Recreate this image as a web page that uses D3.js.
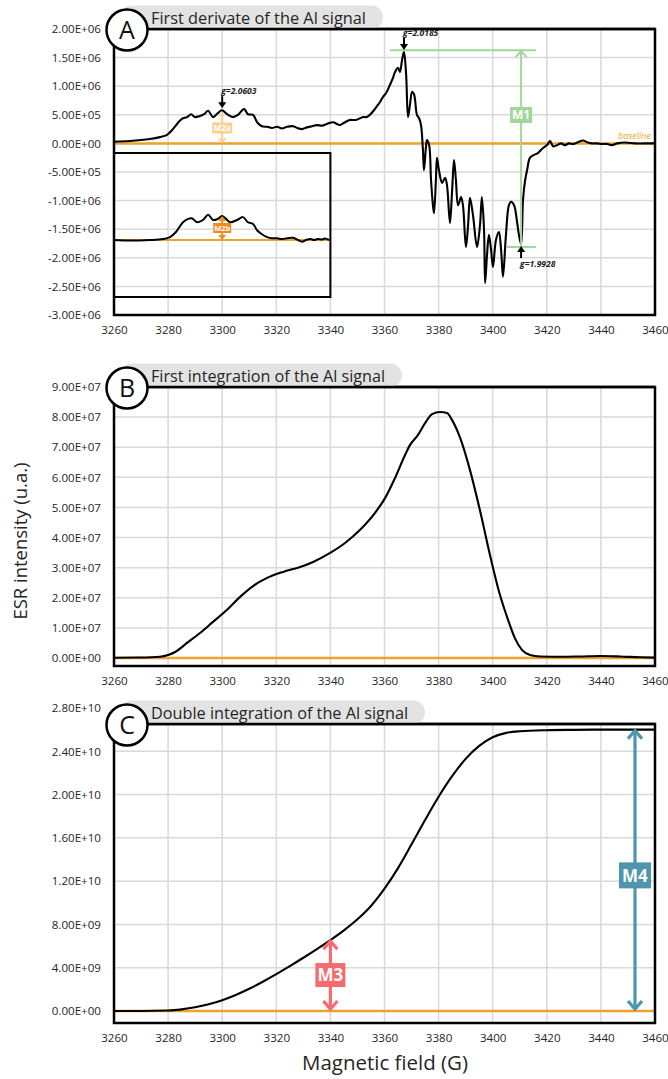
<!DOCTYPE html>
<html>
<head>
<meta charset="utf-8">
<script src="https://cdn.jsdelivr.net/npm/d3@7"></script>
<style>
  body { margin: 0; background: #fff; }
  text { font-family: "Open Sans", "Noto Sans", sans-serif; }
</style>
</head>
<body>
<svg id="chart" width="668" height="1079"></svg>
<script>
// ---- data -------------------------------------------------------------
const fieldTicks = [3260, 3280, 3300, 3320, 3340, 3360, 3380, 3400, 3420, 3440, 3460];

const derivTicks = [2e6, 1.5e6, 1e6, 5e5, 0, -5e5, -1e6, -1.5e6, -2e6, -2.5e6, -3e6];
const integTicks = [9e7, 8e7, 7e7, 6e7, 5e7, 4e7, 3e7, 2e7, 1e7, 0];
const doubleTicks = [2.8e10, 2.4e10, 2e10, 1.6e10, 1.2e10, 8e9, 4e9, 0];

// first derivative of the Al signal
const derivField = [3260,3265.9,3273.3,3277.0,3279.6,3281.4,3283.3,3285.1,3287.0,3288.5,
  3289.9,3291.8,3293.3,3294.8,3296.6,3298.4,3299.9,3301.8,3304.0,3305.8,
  3308.1,3309.5,3311.4,3312.9,3314.7,3316.6,3318.4,3320.3,3322.1,3324.0,
  3326.2,3327.7,3329.5,3331.3,3333.2,3335.0,3336.9,3338.7,3341.0,3342.4,
  3343.5,3345.4,3347.2,3349.5,3352.1,3353.5,3354.6,3356.1,3357.2,3358.3,
  3359.4,3360.6,3362.0,3363.1,3363.9,3365.0,3365.7,3366.5,3367.2,3368.0,
  3368.7,3369.4,3370.2,3370.9,3371.3,3372.0,3372.8,3373.5,3374.2,3374.6,
  3375.3,3375.7,3376.5,3377.2,3377.9,3378.3,3379.0,3379.4,3380.1,3381.3,
  3382.4,3383.1,3384.2,3385.0,3385.7,3386.4,3387.2,3388.3,3389.0,3390.1,
  3390.9,3391.6,3392.7,3394.2,3395.3,3396.0,3396.8,3397.2,3397.9,3398.6,
  3399.4,3400.1,3401.2,3402.3,3403.1,3403.8,3404.9,3406.0,3406.8,3407.9,
  3409.0,3409.7,3410.5,3411.2,3412.0,3412.7,3413.8,3415.3,3416.7,3418.6,
  3420.1,3421.2,3422.3,3423.8,3425.2,3426.7,3428.2,3429.7,3431.5,3433.4,
  3434.9,3436.7,3438.6,3440.4,3442.3,3444.1,3446.0,3448.9,3452.6,3456.3,3460];
const derivValue = [3.0e4,4.2e4,7.7e4,1.1e5,1.5e5,2.3e5,3.4e5,4.3e5,4.6e5,5.1e5,
  4.6e5,4.8e5,5.1e5,5.7e5,4.6e5,5.3e5,5.8e5,5.1e5,4.6e5,5.0e5,
  6.0e5,5.1e5,5.0e5,3.7e5,3.0e5,2.9e5,2.7e5,2.9e5,2.6e5,2.9e5,
  3.0e5,2.7e5,2.5e5,2.8e5,3.0e5,3.2e5,3.1e5,3.4e5,3.7e5,3.4e5,
  3.2e5,3.7e5,4.1e5,4.1e5,4.6e5,4.6e5,5.0e5,5.8e5,6.5e5,7.2e5,
  8.1e5,8.8e5,1.02e6,1.14e6,1.25e6,1.32e6,1.25e6,1.46e6,1.60e6,1.20e6,
  4.6e5,6.7e5,9.0e5,8.6e5,7.6e5,5.0e5,4.4e5,3.2e5,-1.1e5,-4.7e5,
  -8e4,6e4,-3e4,-6.4e5,-1.08e6,-1.22e6,-6.4e5,-2.5e5,-4.6e5,-6.9e5,
  -6.0e5,-7.3e5,-1.39e6,-8.2e5,-2.9e5,-6.4e5,-1.08e6,-9.4e5,-1.08e6,-1.81e6,
  -1.43e6,-9.5e5,-1.25e6,-1.81e6,-1.43e6,-9.4e5,-1.51e6,-2.44e6,-1.95e6,-1.60e6,
  -1.86e6,-2.16e6,-1.69e6,-1.55e6,-1.86e6,-2.33e6,-1.60e6,-1.08e6,-1.02e6,-1.08e6,
  -1.37e6,-1.60e6,-1.76e6,-9.9e5,-6.4e5,-4.7e5,-2.5e5,-2.0e5,-1.7e5,-8e4,
  -3e4,4e4,-5e4,-3e4,0,-3e4,0,-1e4,2e4,5e4,
  2e4,0,0,-1e4,-1e4,-3e4,0,1.5e4,0,0,0];

// baseline-corrected low-field component (inset)
const insetField = [3260,3265.9,3273.3,3278.1,3280.7,3282.9,3285.5,3287.4,3288.8,3290.7,
  3292.9,3294.8,3296.6,3298.4,3299.9,3301.4,3302.9,3305.5,3307.7,3309.5,
  3311.4,3312.9,3314.7,3316.6,3318.4,3320.3,3322.1,3324.0,3326.2,3328.0,
  3329.5,3331.0,3332.5,3334.0,3335.4,3336.9,3338.0,3339.5];
const insetValue = [0,-9e3,0,1.7e4,5e4,1.4e5,3.1e5,3.7e5,3.8e5,3.1e5,
  3.5e5,4.4e5,3.5e5,3.7e5,4.2e5,3.7e5,3.1e5,3.5e5,4.0e5,3.1e5,
  2.8e5,1.7e5,1.0e5,5e4,3e4,3e4,1.7e4,3e4,4e4,0,
  -3e4,0,1.7e4,0,1.7e4,9e3,2.6e4,0];

// first integration
const integField = [3260,3269.6,3277.0,3280.0,3282.6,3287.0,3291.8,3296.6,3301.8,3306.6,
  3311.4,3316.6,3322.5,3328.8,3333.6,3339.9,3345.4,3350.9,3356.5,3360.2,
  3363.9,3367.6,3369.4,3372.4,3375.0,3377.6,3380.5,3383.1,3385.0,3388.0,
  3391.6,3395.3,3399.0,3402.7,3405.7,3408.2,3410.8,3413.8,3417.5,3424.9,
  3432.3,3439.7,3447.1,3454.5,3460];
const integValue = [1e5,1.7e5,4.3e5,1.0e6,2.0e6,5.0e6,8.3e6,1.2e7,1.6e7,2.03e7,
  2.39e7,2.66e7,2.86e7,3.02e7,3.19e7,3.49e7,3.82e7,4.25e7,4.82e7,5.31e7,
  5.98e7,6.74e7,7.07e7,7.41e7,7.8e7,8.1e7,8.17e7,8.14e7,7.9e7,7.3e7,
  6.24e7,4.9e7,3.42e7,2.09e7,1.26e7,6.6e6,2.7e6,1.0e6,5e5,4e5,
  5e5,6.6e5,5e5,2.3e5,1.3e5];

// double integration
const doubleField = [3260,3270,3280,3285,3290,3295,3300,3305,3310,3315,
  3320,3325,3330,3335,3340,3345,3350,3355,3360,3365,
  3370,3375,3380,3385,3390,3395,3400,3405,3410,3420,
  3430,3440,3450,3460];
const doubleValue = [0,0,4e7,1.5e8,3.4e8,6.2e8,1.0e9,1.48e9,2.05e9,2.7e9,
  3.4e9,4.15e9,4.92e9,5.72e9,6.55e9,7.45e9,8.47e9,9.7e9,1.13e10,1.32e10,
  1.54e10,1.765e10,1.98e10,2.17e10,2.33e10,2.45e10,2.53e10,2.57e10,2.585e10,2.595e10,
  2.598e10,2.6e10,2.6e10,2.6e10];

// g-factor markers on the derivative
const gMarks = [
  { label: "g=2.0603", field: 3300.0, value: 5.8e5, dir: "down" },
  { label: "g=2.0185", field: 3367.2, value: 1.60e6, dir: "down" },
  { label: "g=1.9928", field: 3410.5, value: -1.76e6, dir: "up" }
];

// ---- drawing ----------------------------------------------------------
const svg = d3.select("#chart");
const ORANGE = "#f0a22e", GRID = "#d9d9d9";
const x = d3.scaleLinear().domain([3260, 3460]).range([114, 655]);

function sci(v) {
  if (v === 0) return "0.00E+00";
  const [m, e] = v.toExponential(2).split("e");
  const n = parseInt(e, 10);
  return m + "E" + (n < 0 ? "-" : "+") + String(Math.abs(n)).padStart(2, "0");
}

function chevron(g, cx, cy, dir, h, w, color, sw) {
  // open arrow head with the tip at (cx, cy); dir = -1 points up, +1 points down
  g.append("path")
    .attr("d", `M${cx - w},${cy - dir * h}L${cx},${cy}L${cx + w},${cy - dir * h}`)
    .attr("fill", "none").attr("stroke", color).attr("stroke-width", sw)
    .attr("stroke-linejoin", "miter").attr("stroke-linecap", "butt");
}

function tri(g, cx, cy, dir, h, w, color) {
  g.append("path")
    .attr("d", `M${cx - w},${cy - dir * h}L${cx},${cy}L${cx + w},${cy - dir * h}Z`)
    .attr("fill", color);
}

function labelBox(g, cx, cy, w, h, text, fill, fs) {
  g.append("rect").attr("x", cx - w / 2).attr("y", cy - h / 2)
    .attr("width", w).attr("height", h).attr("fill", fill);
  g.append("text").attr("x", cx).attr("y", cy).attr("dy", "0.36em")
    .attr("text-anchor", "middle").attr("fill", "#fff")
    .attr("font-weight", 700).attr("font-size", fs).text(text);
}

const panels = [
  { key: "A", title: "First derivate of the Al signal", titleW: 215,
    top: 29, bottom: 315, yDomain: [-3e6, 2e6], yRange: [315, 29],
    ticks: derivTicks, field: derivField, value: derivValue, curve: d3.curveCatmullRom.alpha(0.5) },
  { key: "B", title: "First integration of the Al signal", titleW: 234,
    top: 387, bottom: 666, yDomain: [0, 9e7], yRange: [658, 387],
    ticks: integTicks, field: integField, value: integValue, curve: d3.curveMonotoneX },
  { key: "C", title: "Double integration of the Al signal", titleW: 257,
    top: 724, bottom: 1023, yDomain: [0, 2.8e10], yRange: [1011, 708],
    ticks: doubleTicks, field: doubleField, value: doubleValue, curve: d3.curveMonotoneX }
];

const [x0, x1] = x.range();

panels.forEach(p => {
  const g = svg.append("g").attr("class", "panel-" + p.key);
  const y = d3.scaleLinear().domain(p.yDomain).range(p.yRange);
  p.y = y;
  p.g = g;

  // grid
  g.append("g").selectAll("line").data(fieldTicks.slice(1, -1)).join("line")
    .attr("x1", d => x(d)).attr("x2", d => x(d))
    .attr("y1", p.top).attr("y2", p.bottom)
    .attr("stroke", GRID).attr("stroke-width", 1.5);
  g.append("g").selectAll("line")
    .data(p.ticks.filter(t => y(t) > p.top + 1 && y(t) < p.bottom - 1)).join("line")
    .attr("x1", x0).attr("x2", x1)
    .attr("y1", d => y(d)).attr("y2", d => y(d))
    .attr("stroke", GRID).attr("stroke-width", 1.5);

  // axes (labels only)
  const ya = g.append("g").attr("transform", `translate(${x0},0)`)
    .call(d3.axisLeft(y).tickValues(p.ticks).tickFormat(sci).tickSize(0).tickPadding(13));
  const xa = g.append("g").attr("transform", `translate(0,${p.bottom})`)
    .call(d3.axisBottom(x).tickValues(fieldTicks).tickFormat(d3.format("d")).tickSize(0).tickPadding(11));
  [ya, xa].forEach(a => {
    a.select(".domain").remove();
    a.selectAll("text").attr("font-size", 11.6).attr("fill", "#262626")
      .attr("font-family", '"Open Sans", sans-serif');
  });

  // baseline
  g.append("line").attr("x1", x0).attr("x2", x1)
    .attr("y1", y(0)).attr("y2", y(0))
    .attr("stroke", ORANGE).attr("stroke-width", 2.5);

  // signal
  const pts = p.field.map((f, i) => [f, p.value[i]]);
  g.append("path").datum(pts)
    .attr("d", d3.line().x(d => x(d[0])).y(d => y(d[1])).curve(p.curve))
    .attr("fill", "none").attr("stroke", "#000").attr("stroke-width", 2.1)
    .attr("stroke-linejoin", "round");
});

// ---- panel A annotations ----
(() => {
  const p = panels[0], g = p.g, y = p.y;

  // inset with the baseline-corrected low-field signal
  const inset = g.append("g");
  const iy = d3.scaleLinear().domain([0, 1e6]).range([240, 240 - 57.2]);
  inset.append("line").attr("x1", x0).attr("x2", x(3340))
    .attr("y1", iy(0)).attr("y2", iy(0)).attr("stroke", ORANGE).attr("stroke-width", 2);
  inset.append("path").datum(insetField.map((f, i) => [f, insetValue[i]]))
    .attr("d", d3.line().x(d => x(d[0])).y(d => iy(d[1])).curve(d3.curveCatmullRom.alpha(0.5)))
    .attr("fill", "none").attr("stroke", "#000").attr("stroke-width", 2)
    .attr("stroke-linejoin", "round");
  inset.append("rect").attr("x", x0).attr("y", 153)
    .attr("width", x(3340) - x0).attr("height", 144)
    .attr("fill", "none").attr("stroke", "#000").attr("stroke-width", 2);
  // M2b
  const m2bx = x(3300);
  inset.append("line").attr("x1", m2bx).attr("x2", m2bx)
    .attr("y1", iy(4.2e5) + 3).attr("y2", iy(0) - 3)
    .attr("stroke", "#f08c1e").attr("stroke-width", 2);
  tri(inset, m2bx, iy(4.2e5), -1, 5, 4, "#f08c1e");
  tri(inset, m2bx, iy(0), 1, 5, 4, "#f08c1e");
  labelBox(inset, m2bx, 228, 18, 10, "M2b", "#f08c1e", 7.5);

  // M2a
  const M2A = "#fbcf8c";
  const m2ax = x(3300);
  g.append("line").attr("x1", m2ax).attr("x2", m2ax)
    .attr("y1", y(5.6e5) + 2).attr("y2", y(0) - 2)
    .attr("stroke", M2A).attr("stroke-width", 2);
  chevron(g, m2ax, y(0) - 1, 1, 4, 3.5, M2A, 1.6);
  labelBox(g, m2ax, 128, 20, 11, "M2a", M2A, 8);

  // M1
  const GREEN = "#9fd69a";
  const m1x = x(3410.5);
  g.append("line").attr("x1", x(3362)).attr("x2", x(3416))
    .attr("y1", y(1.63e6)).attr("y2", y(1.63e6)).attr("stroke", GREEN).attr("stroke-width", 2);
  g.append("line").attr("x1", x(3405)).attr("x2", x(3416))
    .attr("y1", y(-1.81e6)).attr("y2", y(-1.81e6)).attr("stroke", GREEN).attr("stroke-width", 2);
  g.append("line").attr("x1", m1x).attr("x2", m1x)
    .attr("y1", y(1.63e6)).attr("y2", y(-1.81e6)).attr("stroke", GREEN).attr("stroke-width", 2);
  chevron(g, m1x, y(1.63e6) + 1, -1, 6, 5.5, GREEN, 2);
  labelBox(g, m1x, 115, 22, 16, "M1", GREEN, 12);

  // g-factor arrows
  gMarks.forEach(m => {
    const mx = x(m.field), my = y(m.value);
    const s = m.dir === "down" ? 1 : -1;
    const tip = my - s * 2;
    const tail = tip - s * 12;
    g.append("line").attr("x1", mx).attr("x2", mx).attr("y1", tail).attr("y2", tip - s * 4)
      .attr("stroke", "#000").attr("stroke-width", 2);
    tri(g, mx, tip, s, 6, 4, "#000");
    g.append("text").attr("x", mx - 1).attr("y", s > 0 ? tail - 2 : tail + 9)
      .attr("font-size", 8.5).attr("font-weight", 700).attr("font-style", "italic")
      .attr("fill", "#222").text(m.label);
  });

  // baseline tag
  g.append("text").attr("x", 651).attr("y", y(0) - 4).attr("text-anchor", "end")
    .attr("font-size", 9).attr("font-style", "italic").attr("fill", ORANGE).text("baseline");
})();

// ---- panel C annotations ----
(() => {
  const p = panels[2], g = p.g, y = p.y;
  const marks = [
    { label: "M3", field: 3340, value: 6.55e9, color: "#f46b70", w: 30, h: 24, at: 0.5 },
    { label: "M4", field: 3452.6, value: 2.6e10, color: "#4f95ad", w: 32, h: 26, at: 0.52 }
  ];
  marks.forEach(m => {
    const mx = x(m.field), yt = y(m.value) + 1, yb = y(0) - 2;
    g.append("line").attr("x1", mx).attr("x2", mx).attr("y1", yt + 1).attr("y2", yb - 1)
      .attr("stroke", m.color).attr("stroke-width", 3.2);
    chevron(g, mx, yt, -1, 8, 7, m.color, 3.2);
    chevron(g, mx, yb, 1, 8, 7, m.color, 3.2);
    labelBox(g, mx, yt + (yb - yt) * m.at, m.w, m.h, m.label, m.color, 17);
  });
})();

// ---- frames, title tabs and panel letters ----
panels.forEach(p => {
  const g = p.g;
  g.append("rect").attr("x", x0).attr("y", p.top)
    .attr("width", x1 - x0).attr("height", p.bottom - p.top)
    .attr("fill", "none").attr("stroke", "#000").attr("stroke-width", 2.5);

  const tabRight = 150 + p.titleW + 18;
  g.append("rect").attr("x", 120).attr("y", p.top - 23.5)
    .attr("width", tabRight - 120).attr("height", 23.5).attr("rx", 11.75)
    .attr("fill", "#e3e3e3");
  g.append("line").attr("x1", x0).attr("x2", x1).attr("y1", p.top).attr("y2", p.top)
    .attr("stroke", "#000").attr("stroke-width", 2.5);
  g.append("text").attr("x", 151).attr("y", p.top - 5.5)
    .attr("font-size", 17).attr("fill", "#262626")
    .attr("textLength", p.titleW).attr("lengthAdjust", "spacingAndGlyphs")
    .text(p.title);

  g.append("circle").attr("cx", 127).attr("cy", p.top + 1).attr("r", 20.5)
    .attr("fill", "#fff").attr("stroke", "#000").attr("stroke-width", 2.5);
  g.append("text").attr("x", 127).attr("y", p.top + 1).attr("dy", "0.36em")
    .attr("text-anchor", "middle").attr("font-size", 25).attr("fill", "#111")
    .text(p.key);
});

// axis titles
svg.append("text").attr("transform", "translate(27,541) rotate(-90)")
  .attr("text-anchor", "middle").attr("font-size", 19).attr("fill", "#262626")
  .attr("textLength", 157).attr("lengthAdjust", "spacingAndGlyphs")
  .text("ESR intensity (u.a.)");
svg.append("text").attr("x", 385).attr("y", 1070)
  .attr("text-anchor", "middle").attr("font-size", 20).attr("fill", "#262626")
  .attr("textLength", 166).attr("lengthAdjust", "spacingAndGlyphs")
  .text("Magnetic field (G)");
</script>
</body>
</html>
